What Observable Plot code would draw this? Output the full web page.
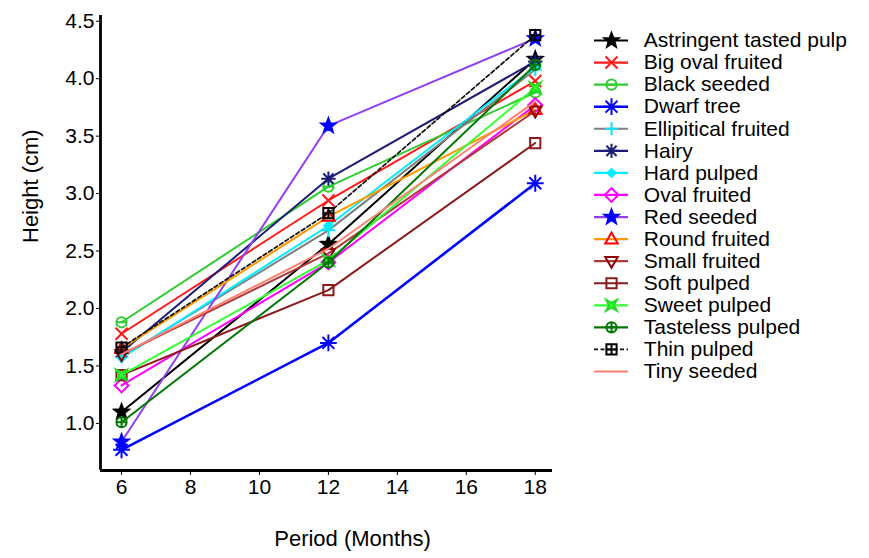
<!DOCTYPE html>
<html><head><meta charset="utf-8">
<script src="https://cdn.jsdelivr.net/npm/d3@7"></script>
<script src="https://cdn.jsdelivr.net/npm/@observablehq/plot@0.6"></script>
<style>
body{margin:0;background:#fff;}
#wrap{position:relative;width:869px;height:558px;}
#legend{position:absolute;left:580px;top:0;}
</style></head><body><div id="wrap"><div id="chart"></div><div id="legend"></div></div>
<script>
// ---- data ----
const periods = [6, 12, 18];
const xTicks = [6, 8, 10, 12, 14, 16, 18];
const yTicks = [1.0, 1.5, 2.0, 2.5, 3.0, 3.5, 4.0, 4.5];
const xDomain = [5.39, 18.5];
const yDomain = [0.59, 4.55];
const seriesNames = ["Astringent tasted pulp","Big oval fruited","Black seeded","Dwarf tree","Ellipitical fruited","Hairy","Hard pulped","Oval fruited","Red seeded","Round fruited","Small fruited","Soft pulped","Sweet pulped","Tasteless pulped","Thin pulped","Tiny seeded"];
const astringentTastedPulp = [1.10, 2.56, 4.17];
const bigOvalFruited      = [1.78, 2.94, 3.98];
const blackSeeded         = [1.88, 3.06, 3.88];
const dwarfTree           = [0.77, 1.70, 3.09];
const ellipiticalFruited  = [1.58, 2.68, 4.08];
const hairy               = [1.62, 3.13, 4.15];
const hardPulped          = [1.57, 2.72, 4.10];
const ovalFruited         = [1.33, 2.40, 3.77];
const redSeeded           = [0.84, 3.59, 4.35];
const roundFruited        = [1.65, 2.80, 3.73];
const smallFruited        = [1.60, 2.48, 3.72];
const softPulped          = [1.42, 2.16, 3.44];
const sweetPulped         = [1.42, 2.42, 3.92];
const tastelessPulped     = [1.01, 2.40, 4.12];
const thinPulped          = [1.66, 2.83, 4.38];
const tinySeeded          = [1.60, 2.52, 3.80];
const seriesValues = [astringentTastedPulp, bigOvalFruited, blackSeeded, dwarfTree, ellipiticalFruited, hairy, hardPulped, ovalFruited, redSeeded, roundFruited, smallFruited, softPulped, sweetPulped, tastelessPulped, thinPulped, tinySeeded];

// ---- custom symbols ----
const R = s => Math.sqrt(s / Math.PI);
const sym = {
  star: {draw(c, s) { const r = R(s) * 1.25, ri = r * 0.42; for (let i = 0; i < 10; i++) { const a = -Math.PI / 2 + i * Math.PI / 5, rr = i % 2 ? ri : r; const x = rr * Math.cos(a), y = rr * Math.sin(a); i ? c.lineTo(x, y) : c.moveTo(x, y); } c.closePath(); }},
  times: {draw(c, s) { const r = R(s); c.moveTo(-r, -r); c.lineTo(r, r); c.moveTo(-r, r); c.lineTo(r, -r); }},
  circleLine: {draw(c, s) { const r = R(s) * 0.85; c.moveTo(r, 0); c.arc(0, 0, r, 0, 2 * Math.PI); c.moveTo(-r, 0); c.lineTo(r, 0); }},
  circlePlus: {draw(c, s) { const r = R(s) * 0.85; c.moveTo(r, 0); c.arc(0, 0, r, 0, 2 * Math.PI); c.moveTo(-r, 0); c.lineTo(r, 0); c.moveTo(0, -r); c.lineTo(0, r); }},
  asterisk8: {draw(c, s) { const r = R(s) * 1.2; for (let k = 0; k < 4; k++) { const a = k * Math.PI / 4; c.moveTo(-r * Math.cos(a), -r * Math.sin(a)); c.lineTo(r * Math.cos(a), r * Math.sin(a)); } }},
  plus: {draw(c, s) { const r = R(s) * 1.1; c.moveTo(-r, 0); c.lineTo(r, 0); c.moveTo(0, -r); c.lineTo(0, r); }},
  diamond: {draw(c, s) { const r = R(s) * 1.15; c.moveTo(0, -r); c.lineTo(r, 0); c.lineTo(0, r); c.lineTo(-r, 0); c.closePath(); }},
  triUp: {draw(c, s) { const r = R(s) * 1.1; c.moveTo(0, -r); c.lineTo(r * 0.95, r * 0.65); c.lineTo(-r * 0.95, r * 0.65); c.closePath(); }},
  triDown: {draw(c, s) { const r = R(s) * 1.1; c.moveTo(0, r); c.lineTo(r * 0.95, -r * 0.65); c.lineTo(-r * 0.95, -r * 0.65); c.closePath(); }},
  square: {draw(c, s) { const r = R(s) * 0.85; c.rect(-r, -r, 2 * r, 2 * r); }},
  squarePlus: {draw(c, s) { const r = R(s) * 0.85; c.rect(-r, -r, 2 * r, 2 * r); c.moveTo(-r, 0); c.lineTo(r, 0); c.moveTo(0, -r); c.lineTo(0, r); }},
  bowtie: {draw(c, s) { const r = R(s) * 0.9, w = r * 0.45; c.moveTo(-r, -r); c.lineTo(0, -w); c.lineTo(r, -r); c.lineTo(w, 0); c.lineTo(r, r); c.lineTo(0, w); c.lineTo(-r, r); c.lineTo(-w, 0); c.closePath(); }}
};

// ---- styles (per series, same order) ----
const styles = [
  {line: "#000000", symbol: "star", mstroke: "#000000", mfill: "#000000"},
  {line: "#ff1a1a", symbol: "times", mstroke: "#ff1a1a"},
  {line: "#2fcc2f", symbol: "circleLine", mstroke: "#2fcc2f"},
  {line: "#0000ff", symbol: "asterisk8", mstroke: "#0000ff", lw: 2.6, r: 7},
  {line: "#7f7f7f", symbol: "plus", mstroke: "#00e5ff"},
  {line: "#1c1c78", symbol: "asterisk8", mstroke: "#1c1c78"},
  {line: "#00eeff", symbol: "diamond", mstroke: "#00eeff", mfill: "#00eeff", r: 3.5},
  {line: "#ff00ff", symbol: "diamond", mstroke: "#ff00ff"},
  {line: "#9040f0", symbol: "star", mstroke: "#0000ff", mfill: "#0000ff"},
  {line: "#ff9900", symbol: "triUp", mstroke: "#ff0000"},
  {line: "#b03a3a", symbol: "triDown", mstroke: "#8b0000"},
  {line: "#8b1a1a", symbol: "square", mstroke: "#8b1a1a"},
  {line: "#33ff33", symbol: "bowtie", mstroke: "#22dd22", mfill: "#33ff33"},
  {line: "#007700", symbol: "circlePlus", mstroke: "#007700"},
  {line: "#111111", symbol: "squarePlus", mstroke: "#000000", dash: "4,2.5", lw: 1.7},
  {line: "#ff8070", symbol: null}
];

const font = "'Liberation Sans', Arial, sans-serif";

// ---- main chart ----
const marks = [];
seriesNames.forEach((name, k) => {
  const st = styles[k];
  const data = periods.map((p, i) => ({period: p, height: seriesValues[k][i]}));
  marks.push(Plot.line(data, {x: "period", y: "height", stroke: st.line, strokeWidth: st.lw || 2, strokeDasharray: st.dash}));
  if (st.symbol) marks.push(Plot.dot(data, {x: "period", y: "height", symbol: sym[st.symbol], r: st.r || 6, stroke: st.mstroke, fill: st.mfill || "none", strokeWidth: 2}));
});
marks.push(Plot.ruleX([xDomain[0]], {stroke: "#000", strokeWidth: 2.8}));
marks.push(Plot.ruleY([yDomain[0]], {stroke: "#000", strokeWidth: 2.8}));
marks.push(Plot.text(["Height (cm)"], {frameAnchor: "left", rotate: -90, dx: -70, fontSize: 22, fill: "#000"}));
marks.push(Plot.text(["Period (Months)"], {frameAnchor: "bottom", dx: 26, dy: 75, fontSize: 22, fill: "#000"}));

const chart = Plot.plot({
  width: 869, height: 558,
  marginLeft: 100, marginRight: 317, marginTop: 15, marginBottom: 88,
  style: {fontSize: "21px", fontFamily: font, color: "#000", background: "transparent"},
  x: {domain: xDomain, ticks: xTicks, tickSize: 5, tickPadding: 4, label: null},
  y: {domain: yDomain, ticks: yTicks, tickFormat: d3.format(".1f"), tickSize: 4, tickPadding: 2, label: null},
  marks
});
document.getElementById("chart").appendChild(chart);

// ---- legend ----
const lmarks = [];
seriesNames.forEach((name, k) => {
  const st = styles[k];
  const row = [{i: k, name}];
  lmarks.push(Plot.ruleY(row, {y: "i", x1: 0, x2: 1, stroke: st.line, strokeWidth: st.lw || 2.2, strokeDasharray: st.dash}));
  if (st.symbol) lmarks.push(Plot.dot(row, {y: "i", x: 0.5, symbol: sym[st.symbol], r: st.r || 6, stroke: st.mstroke, fill: st.mfill || "none", strokeWidth: 2}));
  lmarks.push(Plot.text(row, {y: "i", x: 1.45, text: "name", textAnchor: "start", fontSize: 21, fill: "#000"}));
});
const legend = Plot.plot({
  width: 289, height: 400,
  margin: 0,
  style: {fontFamily: font, background: "transparent"},
  x: {domain: [0, 1], range: [14, 48], axis: null},
  y: {domain: [0, 15], range: [40, 371], axis: null},
  marks: lmarks
});
document.getElementById("legend").appendChild(legend);
</script></body></html>
